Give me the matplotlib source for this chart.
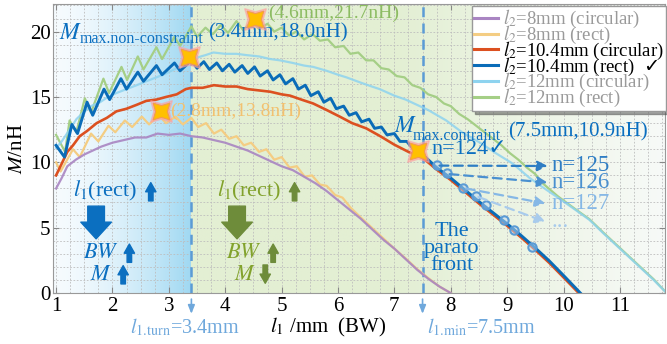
import numpy as np
import matplotlib.pyplot as plt
from matplotlib.colors import to_rgb
from matplotlib.lines import Line2D

plt.rcParams['font.family'] = ['Liberation Serif', 'DejaVu Sans']
plt.rcParams['mathtext.fontset'] = 'stix'

# ---- data ----
# l2 = 8mm (circular)
x_8c = [1.0, 1.1, 1.2, 1.35, 1.5, 1.65, 1.8, 2.0, 2.2, 2.4, 2.6, 2.8, 3.0, 3.2, 3.4, 3.6, 3.8,
        4.0, 4.2, 4.4, 4.6, 4.8, 5.0, 5.2, 5.4, 5.6, 5.8, 6.0, 6.2, 6.4, 6.6, 6.8, 7.0, 7.2,
        7.4, 7.6, 7.8, 8.0]
y_8c = [8.0, 8.8, 9.7, 10.2, 10.6, 10.9, 11.2, 11.5, 11.7, 11.9, 11.9, 12.2, 12.1, 12.2, 12.0,
        11.9, 11.7, 11.5, 11.2, 10.9, 10.5, 10.1, 9.7, 9.4, 8.9, 8.4, 7.8, 7.1, 6.4, 5.7, 4.9,
        4.1, 3.4, 2.6, 1.8, 1.1, 0.5, 0.0]
# l2 = 8mm (rect)
x_8r = [1.0, 1.08, 1.3, 1.42, 1.62, 1.75, 1.93, 2.05, 2.22, 2.35, 2.52, 2.65, 2.82, 2.95, 3.12,
        3.25, 3.4, 3.52, 3.66, 3.8, 3.93, 4.07, 4.2, 4.33, 4.46, 4.6, 4.73, 4.87, 5.0, 5.14,
        5.27, 5.41, 5.54, 5.68, 5.8, 5.95, 6.08, 6.22, 6.4, 6.6, 6.8, 7.0, 7.2, 7.4, 7.6, 7.8, 8.0]
y_8r = [10.0, 9.3, 11.0, 10.4, 12.2, 11.6, 12.8, 12.3, 13.2, 12.7, 13.5, 12.9, 13.6, 13.0, 13.5,
        12.9, 13.4, 12.7, 13.0, 12.2, 12.5, 11.8, 12.0, 11.3, 11.5, 10.8, 11.0, 10.2, 10.4, 9.6,
        9.7, 8.9, 9.0, 8.3, 8.2, 7.5, 7.3, 6.55, 5.8, 5.0, 4.2, 3.4, 2.65, 1.85, 1.15, 0.5, 0.0]
# l2 = 10.4mm (circular)
x_10c = [1.0, 1.1, 1.2, 1.3, 1.42, 1.55, 1.72, 1.9, 2.07, 2.25, 2.43, 2.6, 2.78, 2.95, 3.14, 3.3,
         3.4, 3.6, 3.8, 4.0, 4.2, 4.4, 4.6, 4.8, 5.0, 5.15, 5.35, 5.56, 5.8, 6.03, 6.25, 6.5,
         6.75, 7.0, 7.25, 7.5, 7.75, 8.0, 8.25, 8.5, 8.75, 9.0, 9.25, 9.5, 9.75, 10.0, 10.27]
y_10c = [9.0, 9.9, 10.8, 11.3, 12.0, 12.4, 13.0, 13.4, 13.9, 14.1, 14.4, 14.7, 14.8, 15.0, 15.2,
         15.6, 15.7, 15.7, 15.9, 15.8, 15.8, 15.6, 15.5, 15.4, 15.2, 15.1, 14.8, 14.5, 14.0,
         13.5, 13.0, 12.6, 12.0, 11.35, 10.8, 10.35, 9.45, 8.65, 7.75, 6.85, 6.0, 5.15, 4.25,
         3.3, 2.3, 1.2, 0.0]
# l2 = 10.4mm (rect)
x_10r = [1.0, 1.15, 1.28, 1.38, 1.55, 1.65, 1.85, 1.95, 2.15, 2.25, 2.45, 2.55, 2.78, 2.88, 3.1,
         3.2, 3.4, 3.5, 3.62, 3.72, 3.85, 3.95, 4.07, 4.17, 4.3, 4.4, 4.52, 4.62, 4.75, 4.85,
         4.97, 5.07, 5.2, 5.3, 5.42, 5.52, 5.65, 5.75, 5.87, 5.97, 6.1, 6.2, 6.32, 6.42, 6.55,
         6.65, 6.77, 6.87, 7.0, 7.1, 7.22, 7.32, 7.42, 7.5, 7.75, 8.0, 8.25, 8.5, 8.75, 9.0,
         9.25, 9.5, 9.75, 10.0, 10.3]
y_10r = [11.3, 10.4, 12.9, 12.2, 14.6, 13.6, 15.6, 14.8, 16.4, 15.6, 16.9, 16.2, 17.4, 16.7, 17.6,
         17.0, 17.8, 17.2, 17.7, 17.1, 17.6, 17.0, 17.5, 16.9, 17.4, 16.8, 17.3, 16.6, 17.0, 16.3,
         16.7, 16.0, 16.4, 15.6, 15.9, 15.1, 15.4, 14.6, 14.9, 14.1, 14.3, 13.6, 13.8, 13.1, 13.3,
         12.6, 12.7, 12.1, 12.2, 11.6, 11.6, 11.1, 10.95, 10.6, 9.6, 8.8, 7.9, 7.0, 6.15, 5.3,
         4.4, 3.45, 2.45, 1.35, 0.0]
# l2 = 12mm (circular)
x_12c = [1.0, 1.1, 1.24, 1.36, 1.48, 1.62, 1.78, 1.92, 2.07, 2.25, 2.43, 2.6, 2.78, 2.95, 3.14,
         3.3, 3.49, 3.65, 3.79, 4.0, 4.2, 4.38, 4.6, 4.8, 4.97, 5.2, 5.4, 5.56, 5.8, 6.0, 6.15,
         6.4, 6.6, 6.74, 7.0, 7.2, 7.4, 7.6, 7.8, 7.92, 8.2, 8.52, 8.8, 9.1, 9.4, 9.63, 9.9,
         10.2, 10.46, 10.7, 11.0, 11.3, 11.6, 11.83]
y_12c = [11.1, 11.6, 12.5, 13.3, 13.8, 14.3, 14.6, 15.0, 15.3, 15.6, 15.9, 16.2, 16.5, 16.8, 17.2,
         17.5, 18.0, 18.2, 18.4, 18.3, 18.3, 18.2, 18.1, 17.9, 17.8, 17.6, 17.4, 17.3, 17.0,
         16.7, 16.5, 16.1, 15.8, 15.6, 15.1, 14.8, 14.4, 14.0, 13.5, 13.2, 12.3, 11.5, 10.7,
         9.9, 8.8, 8.1, 7.3, 6.4, 5.6, 4.6, 3.4, 2.2, 1.0, 0.0]
# l2 = 12mm (rect)
x_12r = [1.0, 1.16, 1.24, 1.36, 1.51, 1.62, 1.84, 1.94, 2.16, 2.26, 2.45, 2.55, 2.78, 2.88, 3.1,
         3.2, 3.4, 3.5, 3.65, 3.78, 3.92, 4.05, 4.2, 4.32, 4.47, 4.6, 4.75, 4.87, 5.0, 5.13,
         5.26, 5.4, 5.55, 5.68, 5.82, 5.95, 6.1, 6.22, 6.36, 6.5, 6.63, 6.77, 6.9, 7.04, 7.18,
         7.32, 7.46, 7.6, 7.74, 7.88, 8.0, 8.15, 8.3, 8.45, 8.6, 8.75, 8.9, 9.05, 9.2, 9.35,
         9.5, 9.63, 9.9, 10.2, 10.46, 10.7, 11.0, 11.3, 11.6, 11.83]
y_12r = [12.1, 10.8, 13.2, 12.3, 14.9, 13.8, 16.4, 15.3, 17.3, 16.3, 18.1, 17.1, 18.8, 17.9, 19.6,
         18.9, 20.4, 19.6, 20.3, 19.8, 20.5, 19.9, 20.8, 20.1, 20.8, 20.2, 20.6, 20.0, 20.3,
         19.7, 20.0, 19.4, 19.8, 19.3, 19.4, 18.8, 18.9, 18.3, 18.4, 17.8, 17.8, 17.2, 17.1,
         16.6, 16.5, 15.9, 15.7, 15.2, 15.0, 14.5, 14.3, 13.7, 13.3, 12.8, 12.3, 11.8, 11.3,
         10.7, 10.2, 9.6, 9.1, 8.4, 7.4, 6.45, 5.65, 4.65, 3.45, 2.25, 1.05, 0.0]

labels = [r'$l_2$=8mm (circular)', r'$l_2$=8mm (rect)', r'$l_2$=10.4mm (circular)',
          r'$l_2$=10.4mm (rect)', r'$l_2$=12mm (circular)', r'$l_2$=12mm (rect)']

# marked optima
star_x = [3.36, 2.86, 4.53, 7.42]
star_y = [18.05, 13.95, 20.95, 10.9]
# pareto candidates along the 10.4mm rect curve
cand_x = [7.75, 7.93, 8.22, 8.44, 8.63, 8.94, 9.12, 9.45]
cand_y = [9.8, 9.15, 8.05, 7.4, 6.7, 5.6, 4.8, 3.5]
turn_l1 = 3.4
min_l1 = 7.5

# ---- figure ----
fig = plt.figure(figsize=(6.67, 3.44), dpi=100)
ax = fig.add_axes([0.080, 0.148, 0.917, 0.840])
x0, x1, y0, y1 = 0.952, 11.8, 0, 22.1

# background shading
t = np.linspace(0, 1, 256) ** 1.6
ca, cb = np.array(to_rgb('#f6fbfe')), np.array(to_rgb('#9fd8f2'))
ax.imshow((ca + (cb - ca) * t[:, None])[None], extent=(x0, turn_l1, y0, y1),
          aspect='auto', zorder=0, interpolation='bilinear')
xs = np.linspace(turn_l1, x1, 256)
s = np.clip((xs - 7.0) / (x1 - 7.0), 0, 1)
ga, gb = np.array(to_rgb('#e3efd3')), np.array(to_rgb('#f7faf8'))
ax.imshow((ga + (gb - ga) * s[:, None])[None], extent=(turn_l1, x1, y0, y1),
          aspect='auto', zorder=0, interpolation='bilinear')

# curves
l1, = ax.plot(x_12r, y_12r, color='#a5cf86', lw=1.6, zorder=3)
l2, = ax.plot(x_12c, y_12c, color='#8ed3ef', lw=1.6, alpha=0.85, zorder=3)
l3, = ax.plot(x_8r, y_8r, color='#f4cd83', lw=1.6, zorder=3)
l4, = ax.plot(x_8c, y_8c, color='#a985c2', lw=1.6, alpha=0.9, zorder=3)
l5, = ax.plot(x_10c, y_10c, color='#dc5020', lw=1.9, zorder=4)
l6, = ax.plot(x_10r, y_10r, color='#0a6cb8', lw=2.1, zorder=5)

# vertical dashed markers
for xv in (turn_l1, min_l1):
    ax.axvline(xv, color='#5b9bd5', lw=1.8, ls=(0, (4, 2.5)), zorder=2)
    ax.annotate('', xy=(xv, -1.8), xytext=(xv, -0.25), annotation_clip=False,
                arrowprops=dict(arrowstyle='-|>,head_length=0.5,head_width=0.2',
                                color='#6fa8dc', lw=1.2))

# candidates and arrows
ax.plot(cand_x, cand_y, 'o', ms=6, mfc=(0.75, 0.85, 0.95, 0.5), mec='#5b9bd5', mew=1.5,
        zorder=6)
arr = [((7.8, 9.75), (9.72, 9.72), '#2e7dc4', 'n=125', 0.0),
       ((7.98, 9.1), (9.72, 8.45), '#4a90d0', 'n=126', 0.0),
       ((8.27, 8.0), (9.68, 6.85), '#86b8e6', 'n=127', 0.0),
       ((8.49, 7.35), (9.68, 5.45), '#a8cbec', '...', 0.05)]
for (sx, sy), (ex, ey), c, txt, dy in arr:
    ax.annotate('', xy=(ex, ey), xytext=(sx, sy), zorder=6,
                arrowprops=dict(arrowstyle='-|>,head_length=0.6,head_width=0.3',
                                color=c, lw=1.6, ls=(0, (4, 2.5)), shrinkA=0, shrinkB=0))
    ax.text(9.79, ey + dy, txt, color=c, fontsize=16.5, va='center', ha='left', zorder=7)

# stars
ax.plot(star_x, star_y, ls='none', marker=(4, 1, 45), ms=22, color='#ff9f9f', alpha=0.55,
        zorder=7)
ax.plot(star_x, star_y, ls='none', marker=(4, 1, 45), ms=17, mfc='#ffc000', mec='#f59a50',
        mew=0.8, zorder=8)

blue = '#0b6fc0'
olive = '#82a22c'
# annotations
ax.text(1.05, 19.85, '$M$', fontsize=17, color=blue, va='center')
ax.text(1.42, 19.45, 'max.non-constraint', fontsize=11.5, color=blue, va='center')
ax.text(3.69, 19.9, '(3.4mm,18.0nH)', fontsize=15, color=blue, va='center')
ax.text(3.02, 13.9, '(2.8mm,13.8nH)', fontsize=14, color='#f2c170', va='center')
ax.text(4.76, 21.4, '(4.6mm,21.7nH)', fontsize=14, color='#8cbc62', va='center')
ax.text(7.0, 12.75, '$M$', fontsize=17, color=blue, va='center')
ax.text(7.33, 12.05, 'max.contraint', fontsize=11.5, color=blue, va='center')
ax.text(9.01, 12.35, '(7.5mm,10.9nH)', fontsize=15, color=blue, va='center')
ax.text(7.66, 10.95, 'n=124✓', fontsize=16, color=blue, va='center')
ax.text(8.02, 3.4, 'The\nparato\nfront', fontsize=16, color=blue, ha='center', va='center',
        linespacing=0.85, zorder=7)


def small_arrow(x, ya, yb, color):
    ax.annotate('', xy=(x, yb), xytext=(x, ya),
                arrowprops=dict(arrowstyle='simple,head_length=0.55,head_width=0.62,tail_width=0.27',
                                color=color, mutation_scale=12, shrinkA=0, shrinkB=0))


# trend notes
for xl, xa, c_txt, c_arr, up in [(1.3, 1.71, blue, blue, True),
                                 (3.85, 4.21, olive, '#6e8c3a', False)]:
    ax.text(xl, 7.8, '$l_1$(rect)', fontsize=16, color=c_txt, va='center')
    small_arrow(xl + 1.38, 7.05, 8.45, c_arr)
    ax.annotate('', xy=(xa, 4.15), xytext=(xa, 6.65),
                arrowprops=dict(arrowstyle='simple,head_length=0.6,head_width=1.1,tail_width=0.6',
                                color=c_arr, mutation_scale=20, shrinkA=0, shrinkB=0))
    ax.text(xl + 0.17, 3.0, '$BW$', fontsize=16, color=c_txt, va='center')
    small_arrow(xl + 1.0, 2.35, 3.75, c_arr)
    ax.text(xl + 0.3, 1.35, '$M$', fontsize=16, color=c_txt, va='center')
    if up:
        small_arrow(xl + 0.89, 0.7, 2.1, c_arr)
    else:
        small_arrow(xl + 0.86, 2.15, 0.75, c_arr)

# below-axis labels
ax.text(3.29, -2.6, r'$l_{\mathrm{1.\!turn}}$=3.4mm', fontsize=14.5, color='#6fa8dc',
        ha='center', va='center')
ax.text(8.55, -2.6, r'$l_{\mathrm{1.\!min}}$=7.5mm', fontsize=14.5, color='#6fa8dc',
        ha='center', va='center')
ax.text(5.82, -2.65, r'$l_1$ /mm  (BW)', fontsize=15, ha='center', va='center')
ax.set_ylabel('$M$/nH', fontsize=15, labelpad=2)

# axes styling
ax.set_xlim(x0, x1)
ax.set_ylim(y0, y1)
ax.set_xticks(range(1, 12))
ax.set_xticks(np.arange(1, 11.8, 0.25), minor=True)
ax.set_yticks([0, 5, 10, 15, 20])
ax.set_yticks(range(0, 23), minor=True)
ax.grid(which='both', color='#bdbdbd', lw=0.6, ls=(0, (2, 2)))
ax.set_axisbelow(True)
ax.tick_params(which='minor', length=0)
ax.tick_params(which='major', direction='in', top=True, right=True, length=4,
               labelsize=15, color='#888888')
ax.tick_params(axis='y', pad=2)
ax.tick_params(axis='x', pad=3)
for sp in ax.spines.values():
    sp.set_color('#999999')

# legend
handles = [Line2D([], [], color=l4.get_color(), lw=2.2), Line2D([], [], color=l3.get_color(), lw=2.2),
           Line2D([], [], color=l5.get_color(), lw=2.2), Line2D([], [], color=l6.get_color(), lw=2.2),
           Line2D([], [], color='#8ed3ef', lw=2.2), Line2D([], [], color=l1.get_color(), lw=2.2)]
leg = ax.legend(handles, labels, loc='upper right', bbox_to_anchor=(1.005, 1.0),
                fontsize=13.5, labelspacing=-0.34, handlelength=1.3, handletextpad=0.25,
                borderpad=0.12, borderaxespad=0.1, fancybox=False, shadow=True,
                edgecolor='#999999', framealpha=1)
leg.set_zorder(9)
for txt, c in zip(leg.get_texts(), ['#9a9a9a', '#9a9a9a', 'black', 'black', '#9a9a9a', '#9a9a9a']):
    txt.set_color(c)
ax.annotate('✓', xy=(1, 0.5), xycoords=leg.get_texts()[3], xytext=(6, 0),
            textcoords='offset points', va='center', ha='left', fontsize=14,
            family='DejaVu Sans', zorder=10)

fig.savefig('out.png', dpi=100)
